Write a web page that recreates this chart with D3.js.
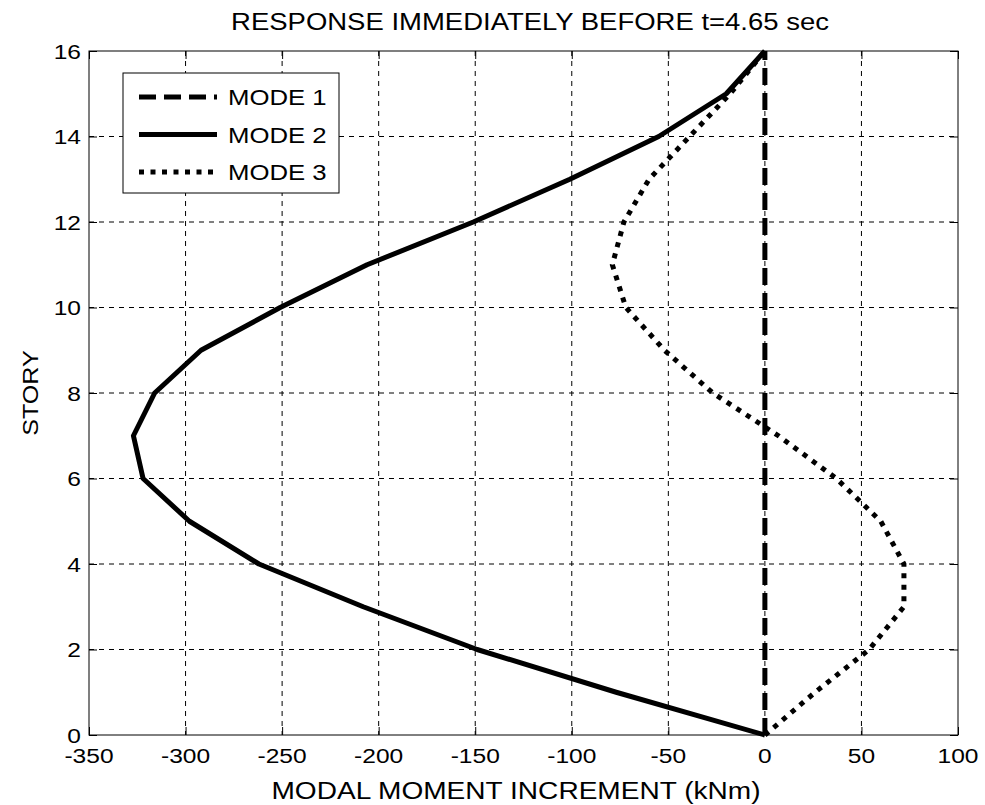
<!DOCTYPE html>
<html>
<head>
<meta charset="utf-8">
<script src="https://cdn.jsdelivr.net/npm/d3@7"></script>
<style>
  body { margin: 0; background: #fff; }
  text { font-family: "Liberation Sans", Arial, sans-serif; fill: #000; }
</style>
</head>
<body>
<div id="chart"></div>
<script>
// story levels and modal moment increments (kNm)
var stories = [0, 1, 2, 3, 4, 5, 6, 7, 8, 9, 10, 11, 12, 13, 14, 15, 16];
var mode1 = [0, 0, 0, 0, 0, 0, 0, 0, 0, 0, 0, 0, 0, 0, 0, 0, 0];
var mode2 = [0, -77, -149, -208, -262, -298, -322, -327, -316, -292, -251, -206, -151, -101, -55, -20, 0];
var mode3 = [0, 26, 54, 72, 72, 60, 37, 7, -27, -52, -72, -79, -73, -60, -39, -18, 0];

var xTicks = [-350, -300, -250, -200, -150, -100, -50, 0, 50, 100];
var yTicks = [0, 2, 4, 6, 8, 10, 12, 14, 16];
var seriesNames = ["MODE 1", "MODE 2", "MODE 3"];

var W = 985, H = 805;
var margin = { top: 51, right: 27, bottom: 70, left: 89 };
var width = W - margin.left - margin.right;
var height = H - margin.top - margin.bottom;
var stretch = 1.17;

var svg = d3.select("#chart").append("svg")
  .attr("width", W)
  .attr("height", H);

var g = svg.append("g")
  .attr("transform", "translate(" + margin.left + "," + margin.top + ")");

var x = d3.scaleLinear().domain([-350, 100]).range([0, width]);
var y = d3.scaleLinear().domain([0, 16]).range([height, 0]);

// text helper: matlab-ish wide font
function label(parent, tx, ty, str, anchor, size, rot) {
  var t = "translate(" + tx + "," + ty + ")";
  if (rot) t += " rotate(" + rot + ")";
  t += " scale(" + stretch + ",1)";
  return parent.append("text")
    .attr("transform", t)
    .attr("text-anchor", anchor)
    .style("font-size", size + "px")
    .text(str);
}

// grid
g.append("g").selectAll("line")
  .data(xTicks.slice(1, -1))
  .enter().append("line")
  .attr("x1", function(d) { return x(d); })
  .attr("x2", function(d) { return x(d); })
  .attr("y1", 0).attr("y2", height)
  .attr("stroke", "#000").attr("stroke-width", 1)
  .attr("stroke-dasharray", "5,5");

g.append("g").selectAll("line")
  .data(yTicks.slice(1, -1))
  .enter().append("line")
  .attr("y1", function(d) { return y(d); })
  .attr("y2", function(d) { return y(d); })
  .attr("x1", 0).attr("x2", width)
  .attr("stroke", "#000").attr("stroke-width", 1)
  .attr("stroke-dasharray", "5,5");

// axes with inward ticks on all sides
var tl = 8;
g.append("g").attr("transform", "translate(0," + height + ")")
  .call(d3.axisBottom(x).tickValues(xTicks).tickSizeInner(-tl).tickSizeOuter(0).tickFormat(""));
g.append("g")
  .call(d3.axisTop(x).tickValues(xTicks).tickSizeInner(-tl).tickSizeOuter(0).tickFormat(""));
g.append("g")
  .call(d3.axisLeft(y).tickValues(yTicks).tickSizeInner(-tl).tickSizeOuter(0).tickFormat(""));
g.append("g").attr("transform", "translate(" + width + ",0)")
  .call(d3.axisRight(y).tickValues(yTicks).tickSizeInner(-tl).tickSizeOuter(0).tickFormat(""));
g.selectAll(".domain").remove();
g.selectAll(".tick line").attr("stroke", "#000");

g.append("rect")
  .attr("width", width).attr("height", height)
  .attr("fill", "none").attr("stroke", "#000").attr("stroke-width", 1);

// tick labels
xTicks.forEach(function(d) {
  label(g, x(d), height + 28, d, "middle", 21);
});
yTicks.forEach(function(d) {
  label(g, -8, y(d) + 7.5, d, "end", 21);
});

// titles
label(svg, 530, 30, "RESPONSE IMMEDIATELY BEFORE t=4.65 sec", "middle", 23.5);
label(svg, 516, 799, "MODAL MOMENT INCREMENT (kNm)", "middle", 24);
label(svg, 38, margin.top + height / 2, "STORY", "middle", 21.5, -90);

// series
var styles = [
  { dash: "17,8" },
  { dash: null },
  { dash: "5,6.5" }
];
var series = [mode1, mode2, mode3];

var line = d3.line()
  .x(function(d) { return x(d[0]); })
  .y(function(d) { return y(d[1]); });

series.forEach(function(vals, i) {
  var pts = stories.map(function(s, j) { return [vals[j], s]; });
  g.append("path")
    .datum(pts)
    .attr("d", line)
    .attr("fill", "none")
    .attr("stroke", "#000")
    .attr("stroke-width", 5)
    .attr("stroke-linejoin", "round")
    .attr("stroke-dasharray", styles[i].dash);
});

// legend
var leg = svg.append("g").attr("transform", "translate(123,73)");
leg.append("rect")
  .attr("width", 216).attr("height", 120)
  .attr("fill", "#fff").attr("stroke", "#000").attr("stroke-width", 1);
seriesNames.forEach(function(name, i) {
  var ly = 24 + i * 37.5;
  leg.append("line")
    .attr("x1", 16).attr("x2", 94)
    .attr("y1", ly).attr("y2", ly)
    .attr("stroke", "#000").attr("stroke-width", 5)
    .attr("stroke-dasharray", styles[i].dash);
  label(leg, 105, ly + 8, name, "start", 22);
});
</script>
</body>
</html>
